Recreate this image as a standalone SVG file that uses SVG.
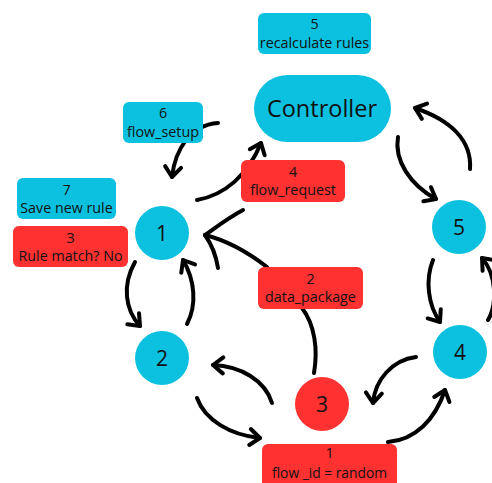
<svg xmlns="http://www.w3.org/2000/svg" width="492" height="483" viewBox="0 0 492 483">
<style>
.cy{fill:#0CC0DF}
.rd{fill:#FF3131}
.t{font-family:"Open Sans","Noto Sans",sans-serif;font-size:14.3px;fill:#111;text-anchor:middle}
.n{font-family:"Open Sans","Noto Sans",sans-serif;font-size:21px;fill:#111;text-anchor:middle}
.c{stroke:#000;stroke-width:4;fill:none;stroke-linecap:round}
.a{marker-end:url(#ah)}
</style>
<defs>
<marker id="ah" markerUnits="userSpaceOnUse" markerWidth="26" markerHeight="26" viewBox="-13 -13 26 26" refX="0" refY="0" orient="auto">
<path d="M-10,-8 L0,0 L-10,8" stroke="#000" stroke-width="4" fill="none" stroke-linecap="round" stroke-linejoin="round"/>
</marker>
</defs>
<rect width="492" height="483" fill="#fff"/>
<g id="connectors">
<path class="c a" d="M398,137 C394,160 410,185 436,199"/>
<path class="c a" d="M470,169 C472,140 450,120 415,108"/>
<path class="c a" d="M433,260 C425,280 428,305 440,322"/>
<path class="c a" d="M488,320 C497,305 497,275 482,258"/>
<path class="c a" d="M416,357 C392,360 375,380 373,403"/>
<path class="c a" d="M388,442 C415,440 435,420 445,390"/>
<path class="c a" d="M197,398 C205,420 230,435 260,438"/>
<path class="c a" d="M272,403 C265,380 240,366 213,365"/>
<path class="c" d="M314,373 C318,350 315,325 302,308"/>
<path class="c" d="M267,267 C245,250 225,240 205,235"/>
<path class="c" d="M243,210 C228,218 215,228 205,235"/>
<path class="c" d="M218,268 C216,255 212,245 205,235"/>
<path class="c a" d="M197,200 C225,195 248,175 261,143"/>
<path class="c a" d="M218,123 C190,125 175,150 172,177"/>
<path class="c a" d="M135,262 C122,285 125,310 140,326"/>
<path class="c a" d="M187,324 C197,305 195,280 183,260"/>
</g>
<g id="controller">
<rect class="cy" x="254" y="75" width="137" height="67" rx="33.5"/>
<text class="n" x="322" y="117" style="font-size:23.5px">Controller</text>
</g>
<g id="box5">
<rect class="cy" x="258" y="13" width="113" height="41" rx="6"/>
<text class="t" x="314.5" y="29">5</text>
<text class="t" x="314.5" y="48">recalculate rules</text>
</g>
<g id="box6">
<rect class="cy" x="123" y="102" width="80" height="41" rx="6"/>
<text class="t" x="163" y="118">6</text>
<text class="t" x="163" y="137">flow_setup</text>
</g>
<g id="box7">
<rect class="cy" x="17" y="178" width="99" height="41" rx="6"/>
<text class="t" x="66.5" y="195">7</text>
<text class="t" x="66.5" y="213">Save new rule</text>
</g>
<g id="box3">
<rect class="rd" x="13" y="226" width="115" height="41" rx="6"/>
<text class="t" x="70.5" y="243">3</text>
<text class="t" x="70.5" y="261">Rule match? No</text>
</g>
<g id="box4">
<rect class="rd" x="241" y="160" width="104" height="42" rx="6"/>
<text class="t" x="293" y="177">4</text>
<text class="t" x="293" y="195">flow_request</text>
</g>
<g id="box2">
<rect class="rd" x="258" y="267" width="105" height="42" rx="6"/>
<text class="t" x="310.5" y="284">2</text>
<text class="t" x="310.5" y="302">data_package</text>
</g>
<g id="box1">
<rect class="rd" x="262" y="444" width="135" height="50" rx="6"/>
<text class="t" x="329.5" y="458">1</text>
<text class="t" x="329.5" y="478" style="font-size:13.8px">flow _id = random</text>
</g>
<g id="node1">
<circle class="cy" cx="162" cy="233" r="27"/>
<text class="n" x="162" y="241">1</text>
</g>
<g id="node2">
<circle class="cy" cx="162" cy="358" r="27"/>
<text class="n" x="162" y="366">2</text>
</g>
<g id="node3">
<circle class="rd" cx="322" cy="404" r="27"/>
<text class="n" x="322" y="412">3</text>
</g>
<g id="node4">
<circle class="cy" cx="460" cy="352" r="27"/>
<text class="n" x="460" y="360">4</text>
</g>
<g id="node5">
<circle class="cy" cx="459" cy="227" r="27"/>
<text class="n" x="459" y="235">5</text>
</g>
</svg>
